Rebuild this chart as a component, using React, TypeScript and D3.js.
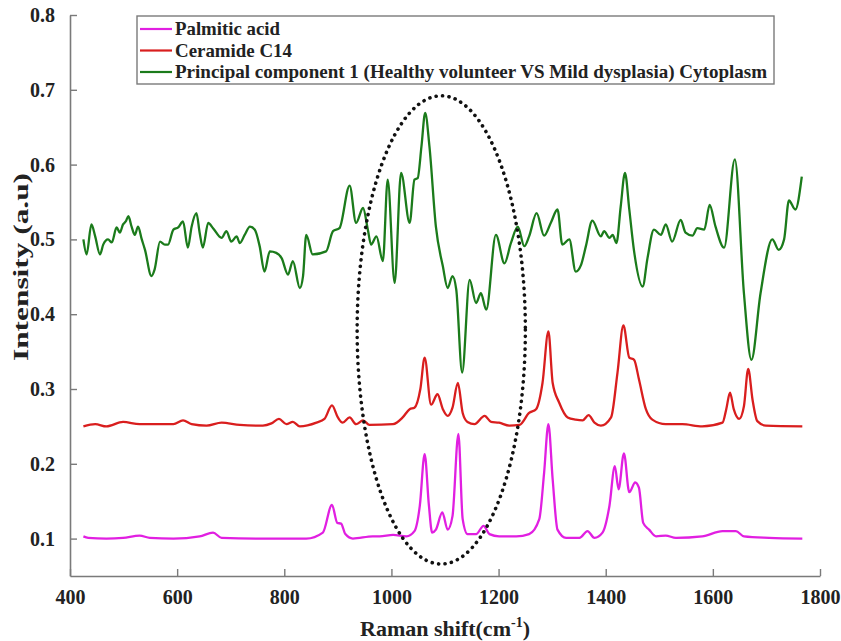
import React, { useEffect, useRef } from "react";
import * as d3 from "d3";

type Pt = [number, number];

const xTicks = [400, 600, 800, 1000, 1200, 1400, 1600, 1800];
const yTicks = [0.1, 0.2, 0.3, 0.4, 0.5, 0.6, 0.7, 0.8];

const seriesNames = [
  "Palmitic acid",
  "Ceramide C14",
  "Principal component 1 (Healthy volunteer VS Mild dysplasia) Cytoplasm",
];

const palmitic: Pt[] = [
  [425, 0.103], [434, 0.101], [468, 0.1], [499, 0.101], [530, 0.104], [549, 0.101],
  [593, 0.1], [642, 0.103], [667, 0.108], [683, 0.101], [748, 0.1], [841, 0.1],
  [872, 0.108], [889, 0.145], [899, 0.121], [906, 0.12], [914, 0.106], [928, 0.1],
  [965, 0.103], [978, 0.103], [1003, 0.105], [1028, 0.103], [1043, 0.11], [1053, 0.144],
  [1062, 0.213], [1070, 0.144], [1076, 0.108], [1083, 0.112], [1095, 0.135], [1105, 0.112],
  [1114, 0.13], [1125, 0.24], [1133, 0.126], [1142, 0.106], [1158, 0.106], [1172, 0.117],
  [1183, 0.106], [1201, 0.103], [1233, 0.103], [1257, 0.106], [1276, 0.126], [1285, 0.188],
  [1293, 0.253], [1301, 0.179], [1310, 0.112], [1326, 0.101], [1351, 0.101], [1366, 0.11],
  [1379, 0.101], [1394, 0.108], [1407, 0.144], [1417, 0.197], [1424, 0.166], [1434, 0.214],
  [1444, 0.162], [1455, 0.175], [1462, 0.168], [1470, 0.121], [1481, 0.112], [1494, 0.103],
  [1512, 0.104], [1531, 0.101], [1580, 0.103], [1618, 0.11], [1643, 0.11], [1658, 0.103],
  [1705, 0.101], [1767, 0.1],
];

const ceramide: Pt[] = [
  [425, 0.25], [447, 0.253], [468, 0.25], [499, 0.256], [530, 0.253], [593, 0.253],
  [611, 0.258], [627, 0.253], [655, 0.251], [683, 0.255], [717, 0.252], [760, 0.251],
  [776, 0.254], [790, 0.26], [804, 0.253], [816, 0.256], [829, 0.25], [860, 0.255],
  [875, 0.26], [889, 0.278], [900, 0.262], [909, 0.255], [922, 0.262], [934, 0.253],
  [947, 0.258], [959, 0.252], [1003, 0.253], [1021, 0.262], [1034, 0.273], [1043, 0.275],
  [1054, 0.3], [1062, 0.342], [1074, 0.279], [1086, 0.293], [1096, 0.273], [1105, 0.264],
  [1114, 0.275], [1124, 0.308], [1133, 0.268], [1142, 0.256], [1155, 0.253], [1174, 0.264],
  [1186, 0.256], [1201, 0.255], [1220, 0.251], [1239, 0.252], [1257, 0.268], [1270, 0.273],
  [1282, 0.308], [1293, 0.377], [1301, 0.308], [1313, 0.282], [1329, 0.262], [1344, 0.259],
  [1357, 0.258], [1368, 0.265], [1379, 0.255], [1391, 0.251], [1410, 0.262], [1422, 0.322],
  [1433, 0.385], [1444, 0.342], [1453, 0.339], [1462, 0.313], [1475, 0.273], [1487, 0.259],
  [1512, 0.253], [1543, 0.253], [1580, 0.25], [1618, 0.255], [1625, 0.273], [1632, 0.295],
  [1639, 0.273], [1649, 0.26], [1658, 0.277], [1666, 0.327], [1674, 0.286], [1683, 0.257],
  [1699, 0.251], [1767, 0.25],
];

const pc1: Pt[] = [
  [425, 0.5], [431, 0.48], [440, 0.52], [447, 0.504], [456, 0.48], [462, 0.493],
  [471, 0.5], [478, 0.496], [487, 0.516], [493, 0.509], [499, 0.52], [504, 0.524],
  [509, 0.531], [515, 0.517], [521, 0.506], [527, 0.517], [534, 0.5], [540, 0.486],
  [552, 0.451], [558, 0.46], [568, 0.497], [577, 0.493], [583, 0.493], [593, 0.513],
  [602, 0.516], [611, 0.524], [620, 0.489], [627, 0.517], [636, 0.535], [642, 0.509],
  [648, 0.489], [658, 0.522], [667, 0.515], [683, 0.502], [692, 0.511], [701, 0.497],
  [711, 0.504], [717, 0.495], [726, 0.506], [736, 0.517], [745, 0.513], [754, 0.491],
  [763, 0.457], [773, 0.484], [785, 0.482], [795, 0.475], [807, 0.453], [816, 0.471],
  [829, 0.435], [835, 0.451], [841, 0.506], [853, 0.48], [878, 0.484], [891, 0.511],
  [903, 0.515], [922, 0.572], [934, 0.522], [947, 0.542], [956, 0.513], [962, 0.493],
  [972, 0.504], [984, 0.471], [993, 0.58], [1006, 0.442], [1018, 0.589], [1034, 0.522],
  [1043, 0.58], [1049, 0.582], [1056, 0.624], [1063, 0.669], [1071, 0.624], [1083, 0.517],
  [1096, 0.464], [1105, 0.435], [1114, 0.451], [1121, 0.433], [1132, 0.322], [1146, 0.446],
  [1158, 0.415], [1167, 0.428], [1177, 0.406], [1195, 0.506], [1211, 0.468], [1223, 0.495],
  [1236, 0.517], [1248, 0.491], [1257, 0.504], [1271, 0.535], [1285, 0.505], [1298, 0.523],
  [1310, 0.54], [1319, 0.493], [1332, 0.5], [1344, 0.457], [1354, 0.466], [1363, 0.491],
  [1375, 0.525], [1391, 0.504], [1397, 0.511], [1407, 0.502], [1413, 0.506], [1420, 0.495],
  [1428, 0.544], [1436, 0.589], [1444, 0.54], [1453, 0.484], [1469, 0.437], [1478, 0.475],
  [1490, 0.513], [1503, 0.506], [1512, 0.52], [1524, 0.497], [1540, 0.526], [1549, 0.509],
  [1562, 0.505], [1571, 0.515], [1584, 0.513], [1594, 0.546], [1605, 0.517], [1621, 0.489],
  [1641, 0.607], [1658, 0.428], [1672, 0.339], [1689, 0.428], [1711, 0.5], [1723, 0.486],
  [1733, 0.5], [1742, 0.552], [1754, 0.54], [1766, 0.584],
];

// Highlight ellipse (data units): center shift, center intensity, half-width, half-height
const highlight = { cx: 1093, cy: 0.379, rx: 157, ry: 0.313 };

const W = 841;
const H = 641;
const FONT = "Liberation Serif, Times New Roman, Times, DejaVu Serif, Noto Serif, serif";
const colors = ["#e11fe1", "#d91e1e", "#1b7b1b"];
const legendWidths = [105, 117, 592];

export default function App() {
  const axRef = useRef<SVGGElement>(null);
  const x = d3.scaleLinear().domain([400, 1800]).range([70, 820]);
  const y = d3.scaleLinear().domain([0.05, 0.8]).range([576, 15]);

  useEffect(() => {
    const g = d3.select(axRef.current);
    g.selectAll("*").remove();
    const xa = g
      .append("g")
      .attr("transform", `translate(0,${y(0.05)})`)
      .call(
        d3.axisBottom(x).tickValues(xTicks).tickFormat(d3.format("d")).tickSizeInner(-7).tickSizeOuter(0).tickPadding(14)
      );
    const ya = g
      .append("g")
      .attr("transform", `translate(${x(400)},0)`)
      .call(
        d3.axisLeft(y).tickValues(yTicks).tickFormat(d3.format(".1f")).tickSizeInner(-7).tickSizeOuter(0).tickPadding(15)
      );
    [xa, ya].forEach((a) => {
      a.attr("font-family", FONT).attr("font-size", 20).attr("font-weight", "bold");
      a.select(".domain").attr("stroke", "#7a7a7a").attr("stroke-width", 1.6);
      a.selectAll(".tick line").attr("stroke", "#7a7a7a").attr("stroke-width", 1.4);
      a.selectAll(".tick text").attr("fill", "#222");
    });
  }, []);

  const line = d3
    .line<Pt>()
    .x((d) => x(d[0]))
    .y((d) => y(d[1]))
    .curve(d3.curveMonotoneX);

  const series = [palmitic, ceramide, pc1];
  const ecx = x(highlight.cx);
  const ecy = y(highlight.cy);
  const erx = x(highlight.cx + highlight.rx) - ecx;
  const ery = y(highlight.cy - highlight.ry) - ecy;

  return (
    <svg width={W} height={H} style={{ position: "absolute", left: 0, top: 0, background: "#fff" }}>
      <g ref={axRef} />
      {series.map((s, i) => (
        <path key={i} d={line(s) || ""} fill="none" stroke={colors[i]} strokeWidth={2.3} strokeLinejoin="round" />
      ))}
      <ellipse
        cx={ecx}
        cy={ecy}
        rx={erx}
        ry={ery}
        fill="none"
        stroke="#111"
        strokeWidth={3.6}
        strokeDasharray="0.1 6.4"
        strokeLinecap="round"
      />
      <g>
        <rect x={137} y={16} width={637} height={68} fill="#fff" stroke="#7a7a7a" strokeWidth={1.4} />
        {seriesNames.map((n, i) => (
          <g key={n} transform={`translate(0,${29 + i * 21.5})`}>
            <line x1={140} x2={172} y1={0} y2={0} stroke={colors[i]} strokeWidth={2.2} />
            <text
              x={175}
              y={6}
              fontFamily={FONT}
              fontWeight="bold"
              fontSize={19}
              fill="#222"
              textLength={legendWidths[i]}
              lengthAdjust="spacingAndGlyphs"
            >
              {n}
            </text>
          </g>
        ))}
      </g>
      <text x={445} y={636} textAnchor="middle" fontFamily={FONT} fontWeight="bold" fontSize={22} fill="#222">
        Raman shift(cm
        <tspan fontSize={14} dy={-9}>-1</tspan>
        <tspan dy={9}>)</tspan>
      </text>
      <text
        transform="translate(28,267) rotate(-90)"
        textAnchor="middle"
        fontFamily={FONT}
        fontWeight="bold"
        fontSize={22}
        fill="#222"
        textLength={188}
        lengthAdjust="spacingAndGlyphs"
      >
        Intensity (a.u)
      </text>
    </svg>
  );
}
